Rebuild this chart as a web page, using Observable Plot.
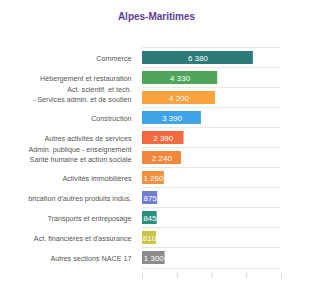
<!DOCTYPE html>
<html><head><meta charset="utf-8">
<script src="https://cdn.jsdelivr.net/npm/d3@7"></script>
<script src="https://cdn.jsdelivr.net/npm/@observablehq/plot@0.6"></script>
<style>
body{margin:0;background:#fff;font-family:"Liberation Sans",Arial,sans-serif;}
#title{width:313px;height:30px;line-height:34px;text-align:center;font-weight:bold;font-size:10px;color:#5e3c99;}
#chart svg{display:block;}
</style></head><body>
<div id="title">Alpes-Maritimes</div>
<div id="chart"></div>
<script>
const categories = [
  "Commerce",
  "Hébergement et restauration",
  "Act. scientif. et tech.\n- Services admin. et de soutien",
  "Construction",
  "Autres activités de services",
  "Admin. publique - enseignement\nSanté humaine et action sociale",
  "Activités immobilières",
  "Fabrication d'autres produits indus.",
  "Transports et entreposage",
  "Act. financières et d'assurance",
  "Autres sections NACE 17"
];
const values = [6380, 4330, 4200, 3390, 2390, 2240, 1260, 875, 845, 810, 1300];
const colors = ["#2c7b78", "#4fa65b", "#f9a23f", "#3ea4e6", "#f26b40", "#f2873b", "#f2913f", "#6f7fcf", "#2b8f80", "#c9c444", "#8c8c8c"];
const xTicks = [0, 2000, 4000, 6000, 8000];

const data = categories.map((c, i) => ({category: c, value: values[i]}));
const fmt = d3.formatLocale({decimal: ",", thousands: " ", grouping: [3], currency: ["", " €"]}).format(",d");

const W = 313, H = 274, mTop = 13, mBottom = 32, mLeft = 142, mRight = 32;
const step = (H - mTop - mBottom) / categories.length;
const single = categories.filter(c => !c.includes("\n"));
const multi = categories.filter(c => c.includes("\n"));
const labelStyle = {tickSize: 0, tickPadding: 11, fontSize: 7.2, lineHeight: 1.35, fill: "#555", label: null};

const chart = Plot.plot({
  width: W, height: H,
  marginTop: mTop, marginBottom: mBottom, marginLeft: mLeft, marginRight: mRight,
  style: {fontFamily: '"Liberation Sans", Arial, sans-serif', background: "#fff"},
  x: {domain: [0, 8000]},
  y: {domain: categories, paddingInner: 0.33, paddingOuter: 0.165, label: null},
  color: {domain: categories, range: colors},
  marks: [
    Plot.ruleY(categories, {y: d => d, dy: -step / 2, stroke: "#e6e6e6"}),
    Plot.ruleY(categories.slice(-1), {y: d => d, dy: step / 2, stroke: "#e6e6e6"}),
    Plot.axisX({ticks: xTicks, tickSize: 6, tickFormat: () => "", stroke: "#dcdcdc", label: null}),
    Plot.axisY({...labelStyle, ticks: single}),
    Plot.axisY({...labelStyle, ticks: multi, dy: -4}),
    Plot.barX(data, {x: "value", y: "category", fill: "category"}),
    Plot.text(data, {x: d => d.value / 2, y: "category", text: d => fmt(d.value), fill: "white", fontSize: 8})
  ]
});

// clip long category labels at the left, as in the original
const svg = d3.select(chart);
svg.append("defs").append("clipPath").attr("id", "ylabclip")
  .append("rect").attr("x", 28.5).attr("y", 0).attr("width", W).attr("height", H);
svg.selectAll('g[aria-label="y-axis tick label"]').each(function() {
  const wrap = document.createElementNS("http://www.w3.org/2000/svg", "g");
  wrap.setAttribute("clip-path", "url(#ylabclip)");
  this.parentNode.insertBefore(wrap, this);
  wrap.appendChild(this);
});
document.getElementById("chart").appendChild(chart);
</script>
</body></html>
